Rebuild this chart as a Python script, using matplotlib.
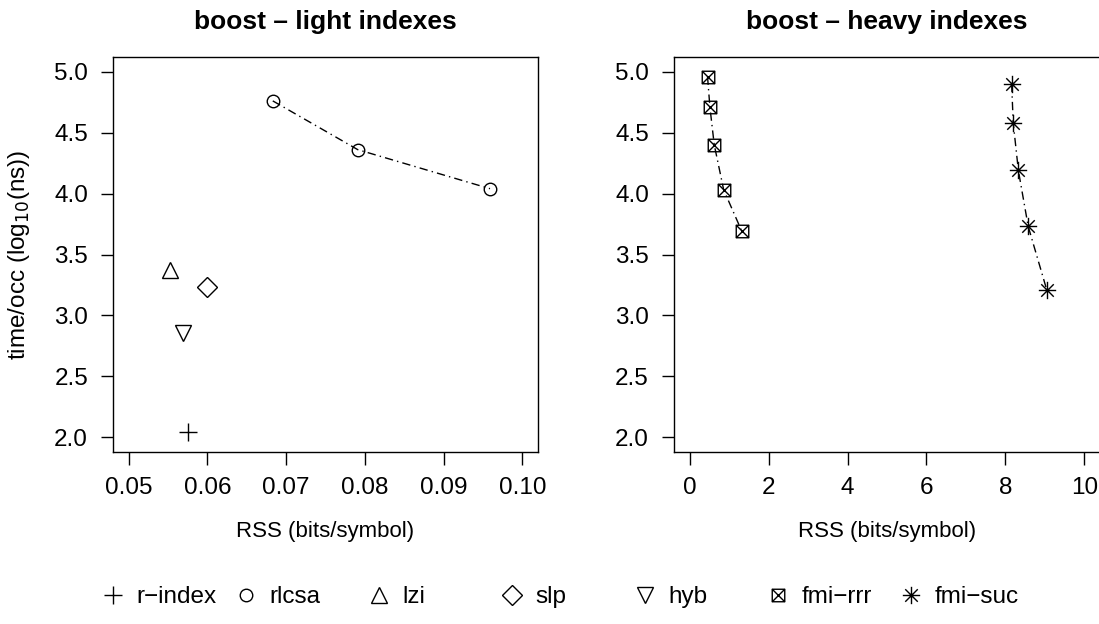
import matplotlib
matplotlib.use("Agg")
import matplotlib.pyplot as plt
from matplotlib.path import Path
from matplotlib.lines import Line2D

plt.rcParams['font.family'] = ['Liberation Sans', 'DejaVu Sans']

# light indexes (left panel)
rindex_x = [0.0575]
rindex_y = [2.04]
rlcsa_x = [0.0683, 0.0791, 0.0959]
rlcsa_y = [4.76, 4.36, 4.04]
lzi_x = [0.0553]
lzi_y = [3.37]
slp_x = [0.0599]
slp_y = [3.23]
hyb_x = [0.0569]
hyb_y = [2.86]

# heavy indexes (right panel)
rrr_x = [0.45, 0.51, 0.62, 0.86, 1.32]
rrr_y = [4.96, 4.71, 4.40, 4.03, 3.69]
suc_x = [8.16, 8.20, 8.33, 8.58, 9.05]
suc_y = [4.90, 4.58, 4.19, 3.73, 3.21]

labels = ['r\u2212index', 'rlcsa', 'lzi', 'slp', 'hyb', 'fmi\u2212rrr', 'fmi\u2212suc']

# custom R-like markers: square with cross (pch 7) and star (pch 8)
M, L, C = Path.MOVETO, Path.LINETO, Path.CLOSEPOLY
sq_cross = Path([(-1, -1), (1, -1), (1, 1), (-1, 1), (-1, -1),
                 (-1, -1), (1, 1), (-1, 1), (1, -1)],
                [M, L, L, L, C, M, L, M, L])
star = Path([(-1, 0), (1, 0), (0, -1), (0, 1),
             (-0.72, -0.72), (0.72, 0.72), (-0.72, 0.72), (0.72, -0.72)],
            [M, L, M, L, M, L, M, L])

mk = dict(color='black', mfc='none', mew=1.0, linestyle='none')
# marker styles per series (R pch 3, 1, 2, 5, 6, 7, 8)
styles = [
    dict(marker='+', ms=13),
    dict(marker='o', ms=9),
    dict(marker='^', ms=11),
    dict(marker='D', ms=10),
    dict(marker='v', ms=11),
    dict(marker=sq_cross, ms=9),
    dict(marker=star, ms=12.5),
]
dotdash = (0, (6, 3, 1, 3))

fig = plt.figure(figsize=(10.99, 6.24), dpi=100)
ax1 = fig.add_axes([113 / 1099, 1 - 452 / 624, 425 / 1099, 395 / 624])
ax2 = fig.add_axes([674 / 1099, 1 - 452 / 624, 426 / 1099, 395 / 624])

ax1.plot(rindex_x, rindex_y, **mk, **styles[0])
ax1.plot(rlcsa_x, rlcsa_y, **{**mk, 'linestyle': dotdash}, lw=1.0, **styles[1])
ax1.plot(lzi_x, lzi_y, **mk, **styles[2])
ax1.plot(slp_x, slp_y, **mk, **styles[3])
ax1.plot(hyb_x, hyb_y, **mk, **styles[4])

ax2.plot(rrr_x, rrr_y, **{**mk, 'linestyle': dotdash}, lw=1.0, **styles[5])
ax2.plot(suc_x, suc_y, **{**mk, 'linestyle': dotdash}, lw=1.0, **styles[6])

for ax, xl, xt, title in [
        (ax1, (0.05, 0.10), [0.05, 0.06, 0.07, 0.08, 0.09, 0.10], 'boost \u2013 light indexes'),
        (ax2, (0, 10), [0, 2, 4, 6, 8, 10], 'boost \u2013 heavy indexes')]:
    pad_x = (xl[1] - xl[0]) * 0.04
    ax.set_xlim(xl[0] - pad_x, xl[1] + pad_x)
    ax.set_ylim(2 - 0.12, 5 + 0.12)
    ax.set_xticks(xt)
    if ax is ax1:
        ax.set_xticklabels(['%.2f' % v for v in xt])
    ax.set_yticks([2.0, 2.5, 3.0, 3.5, 4.0, 4.5, 5.0])
    ax.set_yticklabels(['%.1f' % v for v in [2.0, 2.5, 3.0, 3.5, 4.0, 4.5, 5.0]])
    ax.tick_params(direction='out', length=9, width=1.0, pad=9, labelsize=17.5)
    for s in ax.spines.values():
        s.set_linewidth(1.0)
    ax.set_xlabel('RSS (bits/symbol)', fontsize=16, labelpad=16)
    ax.set_title(title, fontsize=19, fontweight='bold', pad=20)

ax1.set_ylabel('time/occ (log$_{10}$(ns))', fontsize=17.5)
ax1.yaxis.set_label_coords(-0.19, 0.5)

# legend: one entry per slot, evenly spaced like R's horizontal legend
handles = [Line2D([], [], **mk, **st) for st in styles]
for i, (h, lab) in enumerate(zip(handles, labels)):
    fig.legend([h], [lab], loc='center left', frameon=False, fontsize=17.5,
               handlelength=1.0, handletextpad=0.45, borderpad=0, borderaxespad=0,
               bbox_to_anchor=((101 + i * 133) / 1099, 1 - 597 / 624))

fig.savefig('out.png', dpi=100)
